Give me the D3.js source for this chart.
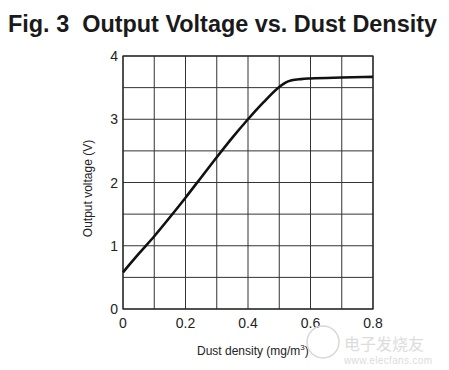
<!DOCTYPE html>
<html>
<head>
<meta charset="utf-8">
<script src="https://cdn.jsdelivr.net/npm/d3@7"></script>
<style>
  body { margin: 0; background: #fff; }
  svg { display: block; font-family: "Liberation Sans", Arial, sans-serif; }
</style>
</head>
<body>
<div id="chart"></div>
<script>
// curve: dust density (mg/m3) -> output voltage (V)
var density = [0, 0.05, 0.1, 0.15, 0.2, 0.25, 0.3, 0.35, 0.4, 0.45, 0.5, 0.52, 0.54, 0.57, 0.6, 0.7, 0.8];
var voltage = [0.58, 0.87, 1.15, 1.45, 1.76, 2.08, 2.40, 2.71, 3.0, 3.27, 3.51, 3.58, 3.615, 3.635, 3.645, 3.66, 3.67];
var xTicks = [0, 0.2, 0.4, 0.6, 0.8];
var yTicks = [0, 1, 2, 3, 4];

var width = 449, height = 370;
var margin = {top: 56, right: 76, bottom: 61, left: 123};
var w = width - margin.left - margin.right,
    h = height - margin.top - margin.bottom;

var svg = d3.select("#chart").append("svg")
  .attr("width", width)
  .attr("height", height);

svg.append("text")
  .attr("x", 8)
  .attr("y", 32)
  .attr("font-size", 23.5)
  .attr("font-weight", "bold")
  .attr("fill", "#1a1a1a")
  .attr("textLength", 429)
  .attr("lengthAdjust", "spacingAndGlyphs")
  .attr("xml:space", "preserve")
  .text("Fig. 3  Output Voltage vs. Dust Density");

var g = svg.append("g")
  .attr("transform", "translate(" + margin.left + "," + margin.top + ")");

var x = d3.scaleLinear().domain([0, 0.8]).range([0, w]);
var y = d3.scaleLinear().domain([0, 4]).range([h, 0]);

// grid
g.selectAll(".vgrid")
  .data(d3.range(0, 9).map(function(i){ return i / 10; }))
  .enter().append("line")
  .attr("x1", function(d){ return x(d); })
  .attr("x2", function(d){ return x(d); })
  .attr("y1", 0).attr("y2", h)
  .attr("stroke", "#333").attr("stroke-width", 1);

g.selectAll(".hgrid")
  .data(d3.range(0, 9).map(function(i){ return i / 2; }))
  .enter().append("line")
  .attr("x1", 0).attr("x2", w)
  .attr("y1", function(d){ return y(d); })
  .attr("y2", function(d){ return y(d); })
  .attr("stroke", "#333").attr("stroke-width", 1);

g.append("rect")
  .attr("width", w).attr("height", h)
  .attr("fill", "none").attr("stroke", "#222").attr("stroke-width", 1.2);

// tick labels
g.selectAll(".xl")
  .data(xTicks)
  .enter().append("text")
  .attr("x", function(d){ return x(d); })
  .attr("y", h + 19)
  .attr("text-anchor", "middle")
  .attr("font-size", 14)
  .attr("fill", "#222")
  .text(function(d){ return d === 0 ? "0" : d3.format(".1f")(d); });

g.selectAll(".yl")
  .data(yTicks)
  .enter().append("text")
  .attr("x", -5)
  .attr("y", function(d){ return y(d) + 5; })
  .attr("text-anchor", "end")
  .attr("font-size", 14)
  .attr("fill", "#222")
  .text(function(d){ return d; });

// axis titles
svg.append("text")
  .attr("transform", "translate(92," + (margin.top + h / 2 + 6) + ") rotate(-90)")
  .attr("text-anchor", "middle")
  .attr("font-size", 12)
  .attr("fill", "#222")
  .text("Output voltage (V)");

var xt = svg.append("text")
  .attr("x", 197)
  .attr("y", 355)
  .attr("font-size", 12)
  .attr("fill", "#222");
xt.append("tspan").text("Dust density (mg/m");
xt.append("tspan").attr("font-size", 8).attr("dy", -5).text("3");
xt.append("tspan").attr("dy", 5).text(")");

// curve
var pts = density.map(function(d, i){ return [d, voltage[i]]; });
g.append("path")
  .datum(pts)
  .attr("fill", "none")
  .attr("stroke", "#111")
  .attr("stroke-width", 2.6)
  .attr("stroke-linejoin", "round")
  .attr("d", d3.line()
    .x(function(d){ return x(d[0]); })
    .y(function(d){ return y(d[1]); })
    .curve(d3.curveMonotoneX));

// watermark
svg.append("circle")
  .attr("cx", 323).attr("cy", 342).attr("r", 16)
  .attr("fill", "none").attr("stroke", "#d8d8d8").attr("stroke-width", 1.5);
svg.append("text")
  .attr("x", 344).attr("y", 350)
  .attr("font-size", 16)
  .attr("font-family", "Noto Sans CJK SC")
  .attr("fill", "#dcdcdc")
  .text("电子发烧友");
svg.append("text")
  .attr("x", 344).attr("y", 364)
  .attr("font-size", 10)
  .attr("fill", "#dcdcdc")
  .attr("textLength", 88)
  .text("www.elecfans.com");
</script>
</body>
</html>
